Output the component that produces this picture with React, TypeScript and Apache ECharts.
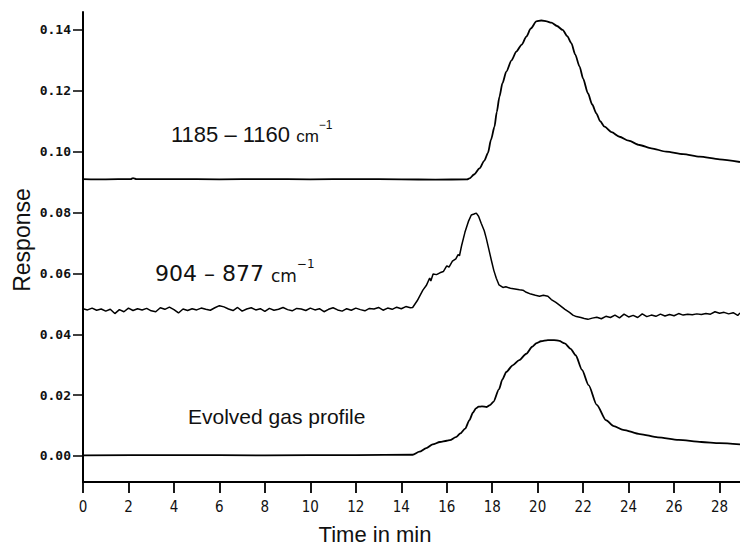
import React, { useEffect, useRef } from "react";
import * as echarts from "echarts";

// Time (min) / response pairs
const band1185: [number, number][] = [
  [0, 0.091], [1.0, 0.0909], [2.1, 0.091], [2.2, 0.0913], [2.35, 0.091], [4.0, 0.091], [6.0, 0.0909],
  [8.0, 0.091], [10.0, 0.0909], [12.0, 0.091], [14.0, 0.0909], [15.5, 0.0908], [16.9, 0.0909],
  [17.0, 0.0912], [17.2, 0.0925], [17.44, 0.0945], [17.65, 0.097], [17.81, 0.0995], [17.95, 0.104],
  [18.1, 0.1082], [18.2, 0.113], [18.32, 0.1181], [18.45, 0.1225], [18.62, 0.1263], [18.85, 0.13],
  [19.06, 0.1329], [19.3, 0.1352], [19.5, 0.1378], [19.7, 0.1405], [19.94, 0.1428], [20.16, 0.1431],
  [20.4, 0.1428], [20.6, 0.1424], [20.85, 0.1413], [21.1, 0.14], [21.3, 0.138], [21.48, 0.1357],
  [21.65, 0.132], [21.84, 0.128], [22.0, 0.124], [22.21, 0.1192], [22.4, 0.1155], [22.58, 0.1126],
  [22.75, 0.11], [22.94, 0.1082], [23.25, 0.1064], [23.6, 0.1049], [24.0, 0.1036], [24.48, 0.1022],
  [25.0, 0.1011], [25.65, 0.1], [26.4, 0.0992], [27.12, 0.0984], [28.0, 0.0975], [28.9, 0.0966],
];

const band904: [number, number][] = [
  [0.0, 0.0484], [0.2, 0.048], [0.4, 0.0486], [0.6, 0.0479], [0.8, 0.0483], [1.0, 0.0476], [1.2, 0.0482],
  [1.4, 0.0468], [1.6, 0.0481], [1.8, 0.0474], [2.0, 0.0486], [2.2, 0.0478], [2.4, 0.0484], [2.6, 0.048],
  [2.8, 0.0485], [3.0, 0.0477], [3.2, 0.0474], [3.4, 0.0487], [3.6, 0.0482], [3.8, 0.0489], [4.0, 0.0481],
  [4.2, 0.047], [4.4, 0.0483], [4.6, 0.0478], [4.8, 0.0484], [5.0, 0.048], [5.2, 0.0486], [5.4, 0.0482],
  [5.6, 0.0479], [5.8, 0.0487], [6.0, 0.0494], [6.2, 0.049], [6.4, 0.0483], [6.6, 0.0478], [6.8, 0.0488],
  [7.0, 0.0476], [7.2, 0.0483], [7.4, 0.0487], [7.6, 0.048], [7.8, 0.0484], [8.0, 0.0475], [8.2, 0.0485],
  [8.4, 0.0479], [8.6, 0.0482], [8.8, 0.0488], [9.0, 0.0481], [9.2, 0.0477], [9.4, 0.0485], [9.6, 0.0483],
  [9.8, 0.0478], [10.0, 0.0486], [10.2, 0.048], [10.4, 0.0484], [10.6, 0.0474], [10.8, 0.0482],
  [11.0, 0.0487], [11.2, 0.048], [11.4, 0.0476], [11.6, 0.0484], [11.8, 0.0479], [12.0, 0.0486],
  [12.2, 0.0481], [12.4, 0.0477], [12.6, 0.0485], [12.8, 0.0483], [13.0, 0.0488], [13.2, 0.0479],
  [13.4, 0.0486], [13.6, 0.0482], [13.8, 0.0489], [14.0, 0.0484], [14.2, 0.0491], [14.4, 0.0487],
  [14.5, 0.0488], [14.7, 0.051], [14.95, 0.0545], [15.1, 0.056], [15.25, 0.0585], [15.3, 0.0575],
  [15.4, 0.0598], [15.55, 0.0596], [15.7, 0.0602], [15.85, 0.0606], [16.0, 0.0625], [16.1, 0.0621],
  [16.25, 0.064], [16.4, 0.0648], [16.5, 0.0662], [16.56, 0.0658], [16.65, 0.069], [16.8, 0.0735],
  [16.95, 0.077], [17.08, 0.0792], [17.2, 0.0795], [17.3, 0.0798], [17.4, 0.0788], [17.52, 0.0764],
  [17.65, 0.074], [17.74, 0.0715], [17.85, 0.068], [17.96, 0.0644], [18.07, 0.061], [18.18, 0.0584],
  [18.3, 0.0562], [18.47, 0.0554], [18.6, 0.0556], [18.8, 0.0551], [19.0, 0.0549], [19.2, 0.0546],
  [19.35, 0.0545], [19.5, 0.0538], [19.7, 0.0532], [19.9, 0.0528], [20.08, 0.0525], [20.25, 0.0528],
  [20.45, 0.0525], [20.6, 0.0514], [20.8, 0.0505], [20.96, 0.0496], [21.2, 0.0482], [21.4, 0.0472],
  [21.55, 0.0463], [21.7, 0.0458], [21.9, 0.0455], [22.05, 0.0452], [22.21, 0.0449], [22.4, 0.0453],
  [22.6, 0.0456], [22.8, 0.0451], [23.0, 0.0459], [23.2, 0.0455], [23.4, 0.0463], [23.6, 0.0454],
  [23.8, 0.0466], [24.0, 0.0457], [24.2, 0.0462], [24.4, 0.0455], [24.6, 0.0467], [24.8, 0.0458],
  [25.0, 0.0463], [25.2, 0.0459], [25.4, 0.0466], [25.6, 0.046], [25.8, 0.0465], [26.0, 0.0461],
  [26.2, 0.0468], [26.4, 0.0463], [26.6, 0.0466], [26.8, 0.0464], [27.0, 0.0467], [27.2, 0.0465],
  [27.4, 0.0468], [27.6, 0.0466], [27.8, 0.0474], [28.0, 0.0469], [28.2, 0.0472], [28.4, 0.0467],
  [28.6, 0.0471], [28.8, 0.0462], [28.9, 0.047],
];

const evolvedGas: [number, number][] = [
  [0, 0.0002], [4.0, 0.0003], [8.0, 0.0002], [12.0, 0.0003], [14.5, 0.0004], [14.8, 0.0014],
  [15.1, 0.0026], [15.38, 0.0038], [15.7, 0.0046], [16.0, 0.005], [16.14, 0.0052], [16.4, 0.0062],
  [16.6, 0.0074], [16.81, 0.009], [17.0, 0.0118], [17.15, 0.0142], [17.28, 0.0156], [17.4, 0.0162],
  [17.55, 0.0163], [17.76, 0.0161], [17.9, 0.0167], [18.05, 0.0178], [18.3, 0.022], [18.45, 0.0252],
  [18.62, 0.0276], [18.9, 0.0298], [19.19, 0.0315], [19.5, 0.0336], [19.76, 0.0359], [19.95, 0.0371],
  [20.14, 0.0377], [20.45, 0.0381], [20.72, 0.0381], [20.95, 0.0378], [21.19, 0.037], [21.45, 0.0352],
  [21.67, 0.0331], [21.95, 0.0283], [22.24, 0.0233], [22.6, 0.0168], [23.0, 0.0118], [23.35, 0.0098],
  [23.76, 0.0086], [24.5, 0.0072], [25.29, 0.0061], [26.2, 0.0053], [27.2, 0.0046], [28.0, 0.0042],
  [28.9, 0.0038],
];

const xTicks = [0, 2, 4, 6, 8, 10, 12, 14, 16, 18, 20, 22, 24, 26, 28];
const yTicks = [0, 0.02, 0.04, 0.06, 0.08, 0.1, 0.12, 0.14];

export default function App() {
  const ref = useRef<HTMLDivElement>(null);
  useEffect(() => {
    if (!ref.current) return;
    const chart = echarts.init(ref.current, undefined, { renderer: "svg" });
    const lineStyle = { color: "#000", width: 1.8 };
    chart.setOption({
      animation: false,
      backgroundColor: "#fff",
      grid: { left: 83, right: 0, top: 12, bottom: 66, outerBoundsMode: "none", containLabel: false },
      xAxis: {
        type: "value",
        min: 0,
        max: 28.9,
        splitLine: { show: false },
        axisLine: { onZero: false, lineStyle: { color: "#000", width: 2 } },
        axisTick: { customValues: xTicks, length: 11, lineStyle: { color: "#000", width: 1.8 } },
        axisLabel: {
          customValues: xTicks,
          margin: 17,
          color: "#111",
          fontSize: 15,
          fontFamily: "'DejaVu Sans Condensed', 'Liberation Sans Narrow', sans-serif",
        },
      },
      yAxis: {
        type: "value",
        min: -0.00855,
        max: 0.1459,
        splitLine: { show: false },
        axisLine: { onZero: false, lineStyle: { color: "#000", width: 2 } },
        axisTick: { customValues: yTicks, length: 10, lineStyle: { color: "#000", width: 1.5 } },
        axisLabel: {
          customValues: yTicks,
          margin: 12,
          color: "#111",
          fontSize: 13,
          fontWeight: "bold",
          fontFamily: "'DejaVu Sans Mono', monospace",
          formatter: (v: number) => v.toFixed(2),
        },
      },
      series: [
        { type: "line", name: "1185-1160", data: band1185, showSymbol: false, smooth: 0.25, smoothMonotone: "x", lineStyle },
        { type: "line", name: "904-877", data: band904, showSymbol: false, lineStyle: { color: "#000", width: 1.5 } },
        { type: "line", name: "Evolved gas profile", data: evolvedGas, showSymbol: false, smooth: 0.25, smoothMonotone: "x", lineStyle },
      ],
      graphic: [
        {
          type: "text", x: 21.7, y: 240, rotation: Math.PI / 2,
          style: { text: "Response", fontSize: 23, fontFamily: "'Liberation Sans', Arial, sans-serif", fill: "#111", align: "center", verticalAlign: "middle" },
        },
        {
          type: "text", x: 375, y: 534,
          style: { text: "Time in min", fontSize: 22, fontFamily: "'Liberation Sans', Arial, sans-serif", fill: "#111", align: "center", verticalAlign: "middle" },
        },
        {
          type: "text", x: 171, y: 132,
          style: {
            text: "{n|1185 – 1160 }{c|cm}{s|−1}",
            align: "left", verticalAlign: "middle", fill: "#111",
            rich: {
              n: { fontSize: 22, fontFamily: "'Liberation Sans', Arial, sans-serif", fill: "#111", lineHeight: 26, verticalAlign: "bottom" },
              c: { fontSize: 17, fontFamily: "'Liberation Sans', Arial, sans-serif", fill: "#111", lineHeight: 26, verticalAlign: "bottom" },
              s: { fontSize: 12, fontFamily: "'Liberation Sans', Arial, sans-serif", fill: "#111", lineHeight: 26, verticalAlign: "top" },
            },
          },
        },
        {
          type: "text", x: 155, y: 271,
          style: {
            text: "{n|904 – 877 }{c|cm}{s|−1}",
            align: "left", verticalAlign: "middle", fill: "#111",
            rich: {
              n: { fontSize: 22, fontFamily: "'DejaVu Sans', sans-serif", fill: "#111", lineHeight: 26, verticalAlign: "bottom" },
              c: { fontSize: 17, fontFamily: "'DejaVu Sans', sans-serif", fill: "#111", lineHeight: 26, verticalAlign: "bottom" },
              s: { fontSize: 12, fontFamily: "'DejaVu Sans', sans-serif", fill: "#111", lineHeight: 26, verticalAlign: "top" },
            },
          },
        },
        {
          type: "text", x: 188, y: 416,
          style: { text: "Evolved gas profile", fontSize: 21, fontFamily: "'Liberation Sans', Arial, sans-serif", fill: "#111", align: "left", verticalAlign: "middle" },
        },
      ],
    });
    return () => chart.dispose();
  }, []);
  return <div ref={ref} style={{ width: 740, height: 548, position: "absolute", left: 0, top: 0 }} />;
}
